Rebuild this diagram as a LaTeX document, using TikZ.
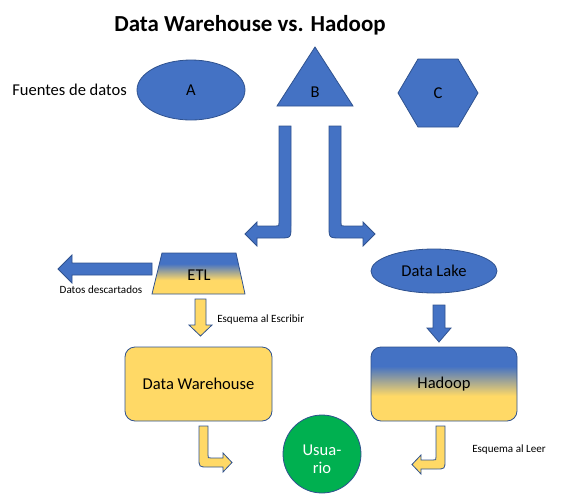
\documentclass[tikz,border=0pt]{standalone}
\usepackage{fontspec}
\setmainfont{Carlito}
\usetikzlibrary{shapes.geometric}
\definecolor{blu}{HTML}{4472C4}
\definecolor{bluedge}{HTML}{2F528F}
\definecolor{yel}{HTML}{FFD966}
\definecolor{grn}{HTML}{00B050}
\pgfdeclareverticalshading{blueyellow}{100bp}{color(0bp)=(yel); color(42bp)=(yel); color(62bp)=(blu); color(100bp)=(blu)}
\tikzset{
  bluefill/.style={fill=blu, draw=bluedge, line width=0.6pt},
  yelfill/.style={fill=yel, draw=bluedge, line width=0.6pt},
  mix/.style={shading=blueyellow, draw=bluedge, line width=0.6pt},
  lbl/.style={font=\fontsize{12.4pt}{14pt}\selectfont, text=black, inner sep=0pt},
  small/.style={font=\fontsize{8.3pt}{10pt}\selectfont, text=black, inner sep=0pt},
}
\begin{document}
\begin{tikzpicture}[x=0.75pt,y=-0.75pt]
\useasboundingbox (0,0) rectangle (569,494);

% title
\node[font=\bfseries\fontsize{17.2pt}{20pt}\selectfont, inner sep=0pt] (title) at (250,25) {Data Warehouse vs. Hadoop};

% data sources
\node[lbl] (fuentes) at (69.5,90) {Fuentes de datos};
\node[ellipse, bluefill, minimum width=81pt, minimum height=45pt, inner sep=0pt, lbl] (A) at (191,90) {A};
\path[bluefill] (315,47) -- (353,106) -- (277,106) -- cycle;
\node[lbl] (B) at (315,92) {B};
\path[bluefill] (398,93) -- (418,59) -- (458,59) -- (478,93) -- (458,127) -- (418,127) -- cycle;
\node[lbl] (C) at (438,93) {C};

% bent arrows from sources
\path[bluefill] (279,126) -- (291,126) -- (291,226) .. controls (291,238) .. (279,238) -- (257,238) -- (257,246) -- (245,234) -- (257,222) -- (257,226) -- (276,226) .. controls (279,226) .. (279,223) -- cycle;
\path[bluefill] (341,126) -- (329,126) -- (329,226) .. controls (329,238) .. (341,238) -- (363,238) -- (363,246) -- (375,234) -- (363,222) -- (363,226) -- (344,226) .. controls (341,226) .. (341,223) -- cycle;

% ETL
\path[mix] (162,253) -- (236,253) -- (245,294) -- (152,294) -- cycle;
\node[lbl] (etl) at (199,275) {ETL};
\path[bluefill] (152,263) -- (72,263) -- (72,255) -- (58,269) -- (72,283) -- (72,275) -- (152,275) -- cycle;
\node[small] (desc) at (101,290) {Datos descartados};

% ETL -> DW
\path[yelfill] (195,299) -- (206,299) -- (206,325) -- (212,325) -- (200.5,336) -- (189,325) -- (195,325) -- cycle;
\node[small, anchor=west] (escribir) at (217,320) {Esquema al Escribir};

% Data Lake
\node[ellipse, bluefill, minimum width=94.5pt, minimum height=33pt, inner sep=0pt, lbl] (lake) at (434,271) {Data Lake};
\path[bluefill] (433,305) -- (445,305) -- (445,328) -- (451,328) -- (439,342) -- (427,328) -- (433,328) -- cycle;

% boxes
\node[rectangle, rounded corners=7.5pt, yelfill, minimum width=110.25pt, minimum height=55.5pt, lbl] (dw) at (198.5,384) {Data Warehouse};
\node[rectangle, rounded corners=7.5pt, mix, minimum width=109.5pt, minimum height=55.5pt, lbl] (hadoop) at (444,384) {Hadoop};

% user
\node[circle, fill=grn, draw=bluedge, line width=0.6pt, minimum size=58.5pt, inner sep=0pt] (user) at (322,454) {};
\node[lbl, text=white, align=center, font=\fontsize{12.4pt}{13.5pt}\selectfont] (usertext) at (322,459) {Usua-\\rio};

% bent arrows to user
\path[yelfill] (199,426) -- (208,426) -- (208,455) .. controls (208,458) .. (211,458) -- (223,458) -- (223,453) -- (232,462.5) -- (223,472) -- (223,467) -- (208,467) .. controls (199,467) .. (199,458) -- cycle;
\path[yelfill] (445,426) -- (436,426) -- (436,457) .. controls (436,460) .. (433,460) -- (421,460) -- (421,455) -- (412,464.5) -- (421,474) -- (421,469) -- (436,469) .. controls (445,469) .. (445,460) -- cycle;
\node[small, anchor=west] (leer) at (472,450) {Esquema al Leer};
\end{tikzpicture}
\end{document}
